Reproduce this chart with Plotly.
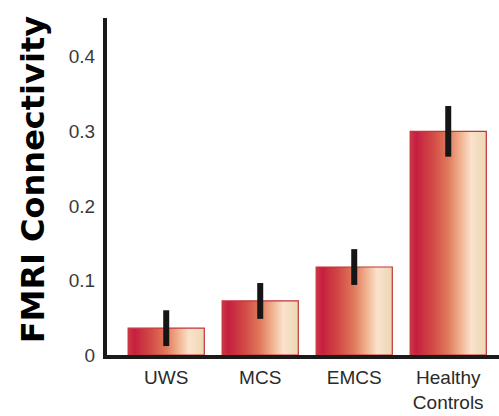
import plotly.graph_objects as go

categories = ["UWS", "MCS", "EMCS", "Healthy<br>Controls"]
values = [0.036, 0.0725, 0.118, 0.300]
errors = [0.024, 0.024, 0.024, 0.034]
y_ticks = [0, 0.1, 0.2, 0.3, 0.4]
y_ticktext = ["0", "0.1", "0.2", "0.3", "0.4"]

bar_half = 0.405
grad = [
    [0.0, "#d0364c"],
    [0.08, "#c51f40"],
    [0.3, "#d24b45"],
    [0.5, "#e07a5c"],
    [0.68, "#f2b896"],
    [0.8, "#fbe2cc"],
    [1.0, "#ead8b3"],
]

fig = go.Figure()
for i, (cat, v) in enumerate(zip(categories, values)):
    fig.add_trace(go.Scatter(
        x=[i - bar_half, i + bar_half, i + bar_half, i - bar_half, i - bar_half],
        y=[0, 0, v, v, 0],
        mode="lines",
        fill="toself",
        fillgradient=dict(type="horizontal", colorscale=grad),
        line=dict(color="#c23237", width=1.2),
        hoverinfo="skip",
        showlegend=False,
    ))

fig.add_trace(go.Scatter(
    x=list(range(len(categories))),
    y=values,
    mode="markers",
    marker=dict(size=1, color="rgba(0,0,0,0)"),
    error_y=dict(type="data", array=errors, visible=True, thickness=6, width=0, color="#151515"),
    showlegend=False,
))

fig.update_layout(
    width=499, height=416,
    margin=dict(l=107, r=0, t=18, b=61),
    paper_bgcolor="white", plot_bgcolor="white",
    font=dict(family="Liberation Sans, Arial, sans-serif", color="#333333"),
    xaxis=dict(
        range=[-0.63, 3.54],
        tickvals=list(range(len(categories))),
        ticktext=categories,
        showline=True, linewidth=4, linecolor="#1a1a1a",
        showgrid=False, zeroline=False, ticks="",
        tickfont=dict(size=19, color="#2a2a2a"),
        ticklabelstandoff=2,
    ),
    yaxis=dict(
        range=[0, 0.452],
        tickvals=y_ticks,
        ticktext=y_ticktext,
        showline=True, linewidth=4, linecolor="#1a1a1a",
        showgrid=False, zeroline=False, ticks="",
        tickfont=dict(size=19, color="#3a3a3a"),
        ticklabelstandoff=4,
    ),
    annotations=[dict(
        text="FMRI Connectivity",
        xref="paper", yref="paper",
        x=-0.19, y=0.52,
        xanchor="center", yanchor="middle",
        textangle=-90,
        showarrow=False,
        font=dict(family="DejaVu Sans, Verdana, sans-serif", size=32, color="#000000", weight="bold"),
    )],
)

fig.write_html("out.html")
